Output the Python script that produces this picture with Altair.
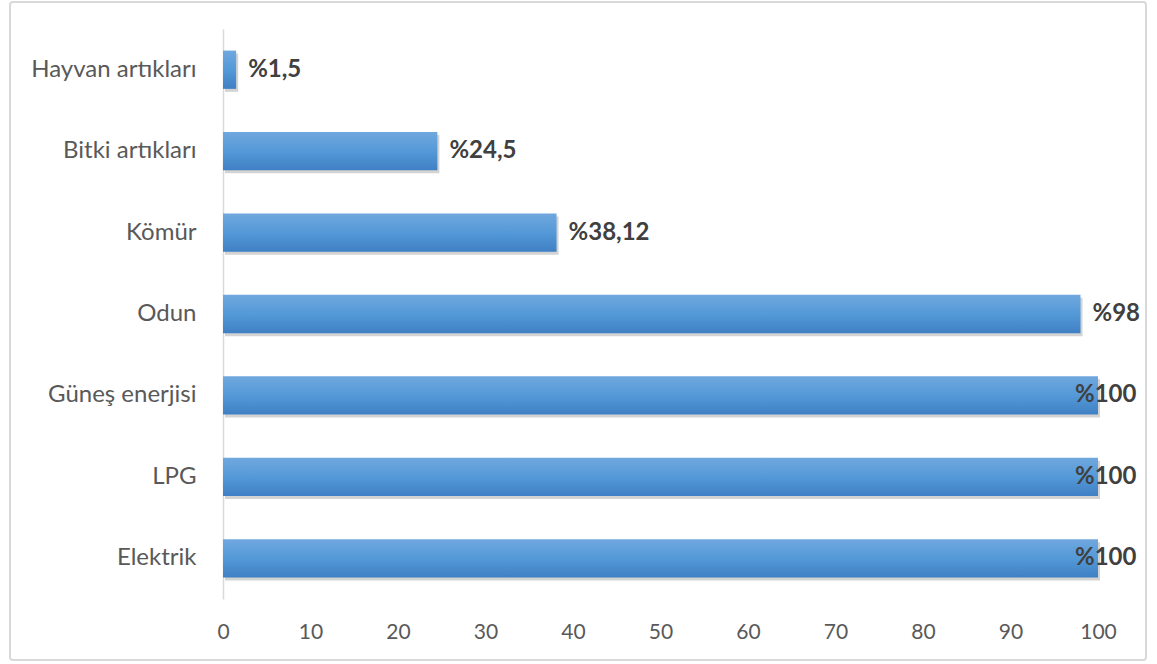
import altair as alt
import pandas as pd

categories = ["Hayvan artıkları", "Bitki artıkları", "Kömür", "Odun",
              "Güneş enerjisi", "LPG", "Elektrik"]
values = [1.5, 24.5, 38.12, 98, 100, 100, 100]
labels = ["%1,5", "%24,5", "%38,12", "%98", "%100", "%100", "%100"]
x_ticks = list(range(0, 101, 10))

df = pd.DataFrame({"cat": categories, "val": values, "lab": labels})

W, H = 875, 570
FONT = "Lato"

y_enc = alt.Y(
    "cat:N", sort=categories,
    scale=alt.Scale(paddingInner=0.53, paddingOuter=0.265),
    axis=alt.Axis(title=None, labelFontSize=24, labelColor="#595959", labelFont=FONT,
                  labelPadding=27, ticks=False, domainColor="#d9d9d9", domainWidth=1.5,
                  labelLimit=300),
)
x_enc = alt.X(
    "val:Q", scale=alt.Scale(domain=[0, 100], nice=False),
    axis=alt.Axis(title=None, values=x_ticks, grid=False, ticks=False, domain=False,
                  labelFontSize=21, labelColor="#595959", labelFont=FONT, labelPadding=22,
                  labelFlush=False),
)

base = alt.Chart(df)

shadow = base.mark_bar(color="#808080", opacity=0.35, xOffset=2, x2Offset=2, yOffset=3).encode(
    x=x_enc, y=y_enc)

grad = alt.Gradient(
    gradient="linear",
    stops=[alt.GradientStop(color="#70a8de", offset=0),
           alt.GradientStop(color="#5499d8", offset=0.5),
           alt.GradientStop(color="#3f80c4", offset=1)],
    x1=0, x2=0, y1=0, y2=1,
)
bars = base.mark_bar(color=grad).encode(x=x_enc, y=y_enc)

txt_props = dict(fontWeight="bold", fontSize=24, color="#404040", font=FONT, baseline="middle")
text_small = base.transform_filter("datum.val < 100").mark_text(align="left", dx=12, **txt_props).encode(
    x=x_enc, y=y_enc, text="lab:N")
text_full = base.transform_filter("datum.val >= 100").mark_text(align="left", dx=-23, **txt_props).encode(
    x=x_enc, y=y_enc, text="lab:N")

border = alt.Chart(pd.DataFrame({"a": [0]})).mark_rect(
    fill=None, stroke="#d9d9d9", strokeWidth=2, cornerRadius=3).encode(
    x=alt.value(-213), x2=alt.value(923), y=alt.value(-27), y2=alt.value(631))

chart = alt.layer(border, shadow, bars, text_small, text_full).properties(
    width=W, height=H,
    autosize=alt.AutoSizeParams(type="none"),
    padding={"left": 223, "top": 29, "right": 59, "bottom": 65},
    background="white",
).configure_view(stroke=None)

chart.save("out.html", embed_options={"renderer": "svg", "actions": False})
